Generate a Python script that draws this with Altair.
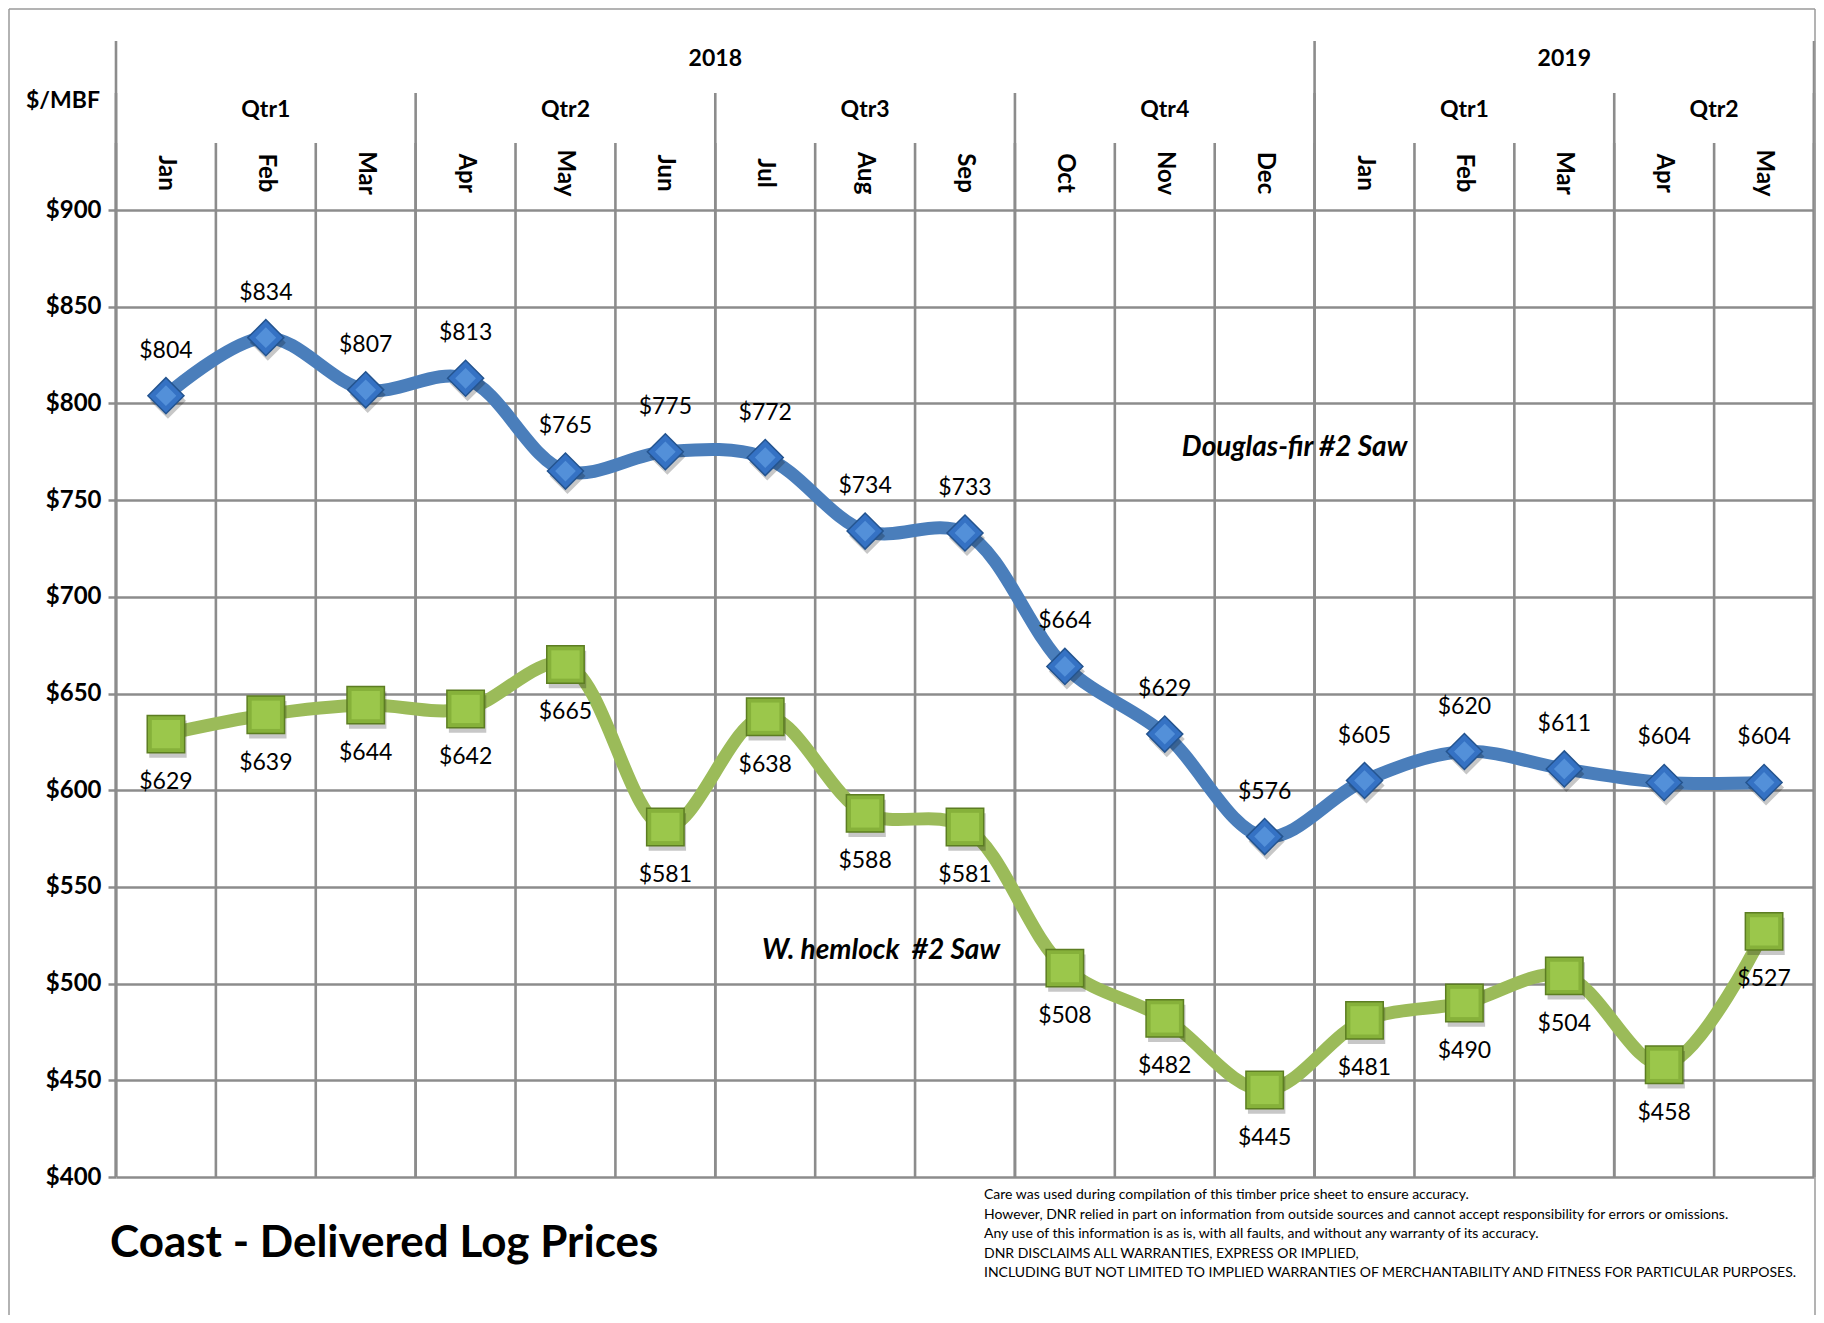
import altair as alt
import pandas as pd
import numpy as np

# ---------------- data ----------------
months = ["Jan", "Feb", "Mar", "Apr", "May", "Jun", "Jul", "Aug", "Sep", "Oct", "Nov", "Dec",
          "Jan", "Feb", "Mar", "Apr", "May"]
quarters = ["Qtr1", "Qtr2", "Qtr3", "Qtr4", "Qtr1", "Qtr2"]
quarter_spans = [3, 3, 3, 3, 3, 2]
years = ["2018", "2019"]
year_spans = [12, 5]
douglas_fir = [804, 834, 807, 813, 765, 775, 772, 734, 733, 664, 629, 576, 605, 620, 611, 604, 604]
w_hemlock = [629, 639, 644, 642, 665, 581, 638, 588, 581, 508, 482, 445, 481, 490, 504, 458, 527]
series_names = ["Douglas-fir #2 Saw", "W. hemlock  #2 Saw"]
y_ticks = list(range(400, 901, 50))
title_text = "Coast - Delivered Log Prices"
unit_text = "$/MBF"
disclaimer = [
    "Care was used during compilation of this timber price sheet to ensure accuracy.",
    "However, DNR relied in part on information from outside sources and cannot accept responsibility for errors or omissions.",
    "Any use of this information is as is, with all faults, and without any warranty of its accuracy.",
    "DNR DISCLAIMS ALL WARRANTIES, EXPRESS OR IMPLIED,",
    "INCLUDING BUT NOT LIMITED TO IMPLIED WARRANTIES OF MERCHANTABILITY AND FITNESS FOR PARTICULAR PURPOSES.",
]
# annotation anchor (month index units, $ value)
series_label_x = [11.8, 7.66]
series_label_y = [777, 517]

# ---------------- layout ----------------
W, H = 1698, 967
N = len(months)
GRID = "#8c8c8c"
BLUE = "#4a7ebb"
GREEN = "#9bbb59"
FONT = "Lato"

xs = alt.Scale(domain=[0, N], nice=False, zero=False)
ys = alt.Scale(domain=[400, 900], nice=False, zero=False)

rows = []
for i, m in enumerate(months):
    rows.append({"pos": i + 0.5, "month": m, "value": douglas_fir[i], "series": series_names[0]})
    rows.append({"pos": i + 0.5, "month": m, "value": w_hemlock[i], "series": series_names[1]})
df = pd.DataFrame(rows)
df_fir = df[df.series == series_names[0]]
df_hem = df[df.series == series_names[1]]

month_df = pd.DataFrame({"pos": np.arange(N) + 0.5, "month": months})
month_b = pd.DataFrame({"b": list(range(N + 1))})
q_edges = np.concatenate([[0], np.cumsum(quarter_spans)])
quarter_b = pd.DataFrame({"b": q_edges})
quarter_df = pd.DataFrame({"mid": (q_edges[:-1] + q_edges[1:]) / 2, "q": quarters})
y_edges = np.concatenate([[0], np.cumsum(year_spans)])
year_b = pd.DataFrame({"b": y_edges})
year_df = pd.DataFrame({"mid": (y_edges[:-1] + y_edges[1:]) / 2, "yr": years})

X = lambda f: alt.X(f, type="quantitative", scale=xs, axis=None)
Y = lambda f: alt.Y(f, type="quantitative", scale=ys)

# y axis with horizontal grid
base_axis = alt.Chart(df).mark_point(opacity=0).encode(
    x=X("pos"),
    y=alt.Y("value:Q", scale=ys, axis=alt.Axis(
        values=y_ticks, format="$d", title=None, domain=False,
        grid=True, gridColor=GRID, gridWidth=2.5,
        ticks=True, tickSize=8, tickColor=GRID, tickWidth=2.5,
        labelFont=FONT, labelFontWeight="bold", labelFontSize=24, labelColor="black",
        labelPadding=7)),
)


def vrules(data, top):
    return alt.Chart(data).mark_rule(color=GRID, strokeWidth=2.6).encode(
        x=X("b"), y=alt.value(top), y2=alt.value(H))


rules = vrules(month_b, -67) + vrules(quarter_b, -117) + vrules(year_b, -169)

month_txt = alt.Chart(month_df).mark_text(
    angle=90, font=FONT, fontWeight="bold", fontSize=24, align="center", baseline="middle"
).encode(x=X("pos"), y=alt.value(-37), text="month:N")
quarter_txt = alt.Chart(quarter_df).mark_text(
    font=FONT, fontWeight="bold", fontSize=23, align="center", baseline="middle"
).encode(x=X("mid"), y=alt.value(-100), text="q:N")
year_txt = alt.Chart(year_df).mark_text(
    font=FONT, fontWeight="bold", fontSize=23, align="center", baseline="middle"
).encode(x=X("mid"), y=alt.value(-151), text="yr:N")

lines = alt.Chart(df).mark_line(interpolate="catmull-rom", strokeWidth=13).encode(
    x=X("pos"), y=Y("value"),
    color=alt.Color("series:N", scale=alt.Scale(domain=series_names, range=[BLUE, GREEN]), legend=None),
)

fir_shadow = alt.Chart(df_fir).mark_point(shape="diamond", filled=True, size=1300, color="#000000",
                                          opacity=0.22, xOffset=2, yOffset=5).encode(x=X("pos"), y=Y("value"))
fir_pt = alt.Chart(df_fir).mark_point(shape="diamond", filled=True, size=1300, fill="#3572c4",
                                      stroke="#24548f", strokeWidth=1.5, opacity=1).encode(x=X("pos"), y=Y("value"))
fir_hi = alt.Chart(df_fir).mark_point(shape="diamond", filled=True, size=430, fill="#5e9be0",
                                      opacity=0.75).encode(x=X("pos"), y=Y("value"))
hem_shadow = alt.Chart(df_hem).mark_point(shape="square", filled=True, size=1400, color="#000000",
                                          opacity=0.22, xOffset=2, yOffset=5).encode(x=X("pos"), y=Y("value"))
hem_pt = alt.Chart(df_hem).mark_point(shape="square", filled=True, size=1400, fill="#86b13a",
                                      stroke="#5c7d22", strokeWidth=1.5, opacity=1).encode(x=X("pos"), y=Y("value"))
hem_hi = alt.Chart(df_hem).mark_point(shape="square", filled=True, size=800, fill="#9fcb4f",
                                      opacity=0.85).encode(x=X("pos"), y=Y("value"))

fir_lbl = alt.Chart(df_fir).mark_text(font=FONT, fontSize=23, dy=-45, color="black").encode(
    x=X("pos"), y=Y("value"), text=alt.Text("value:Q", format="$d"))
hem_lbl = alt.Chart(df_hem).mark_text(font=FONT, fontSize=23, dy=48, color="black").encode(
    x=X("pos"), y=Y("value"), text=alt.Text("value:Q", format="$d"))

# keep the double space visible in SVG
sl_df = pd.DataFrame({"x": series_label_x, "y": series_label_y,
                      "name": [n.replace("  ", " \u00a0") for n in series_names]})
sl_txt = alt.Chart(sl_df).mark_text(font=FONT, fontSize=28, fontWeight="bold", fontStyle="italic",
                                    color="black").encode(x=X("x"), y=Y("y"), text="name:N")

unit = alt.Chart(pd.DataFrame({"t": [unit_text]})).mark_text(
    font=FONT, fontSize=23, fontWeight="bold", align="center", baseline="middle").encode(
    x=alt.value(-53), y=alt.value(-109), text="t:N")

title = alt.Chart(pd.DataFrame({"t": [title_text]})).mark_text(
    font=FONT, fontSize=44, fontWeight="bold", align="left", baseline="middle").encode(
    x=alt.value(-6), y=alt.value(1034), text="t:N")

disc = alt.Chart(pd.DataFrame({"t": ["\n".join(disclaimer)]})).mark_text(
    font=FONT, fontSize=14, align="left", baseline="top",
    lineBreak="\n", lineHeight=19.5).encode(
    x=alt.value(868), y=alt.value(978), text="t:N")

frame_left = alt.Chart(pd.DataFrame({"a": [0]})).mark_rule(color="#9a9a9a", strokeWidth=1.5).encode(
    x=alt.value(-107), y=alt.value(-201), y2=alt.value(H + 138))
frame_top = alt.Chart(pd.DataFrame({"a": [0]})).mark_rule(color="#9a9a9a", strokeWidth=1.5).encode(
    x=alt.value(-107), x2=alt.value(W + 1), y=alt.value(-201))
frame_right = alt.Chart(pd.DataFrame({"a": [0]})).mark_rule(color="#9a9a9a", strokeWidth=1.5).encode(
    x=alt.value(W + 1), y=alt.value(-201), y2=alt.value(H + 138))

chart = alt.layer(
    base_axis, rules, month_txt, quarter_txt, year_txt, lines,
    fir_shadow, fir_pt, fir_hi, hem_shadow, hem_pt, hem_hi,
    fir_lbl, hem_lbl, sl_txt, unit, title, disc,
    frame_left, frame_top, frame_right,
).properties(
    width=W, height=H,
    padding={"left": 108, "top": 202, "right": 2, "bottom": 138},
    autosize=alt.AutoSizeParams(type="none"),
    background="white",
).configure_view(stroke=None)

chart.save("out.html", embed_options={"renderer": "svg", "actions": False})
